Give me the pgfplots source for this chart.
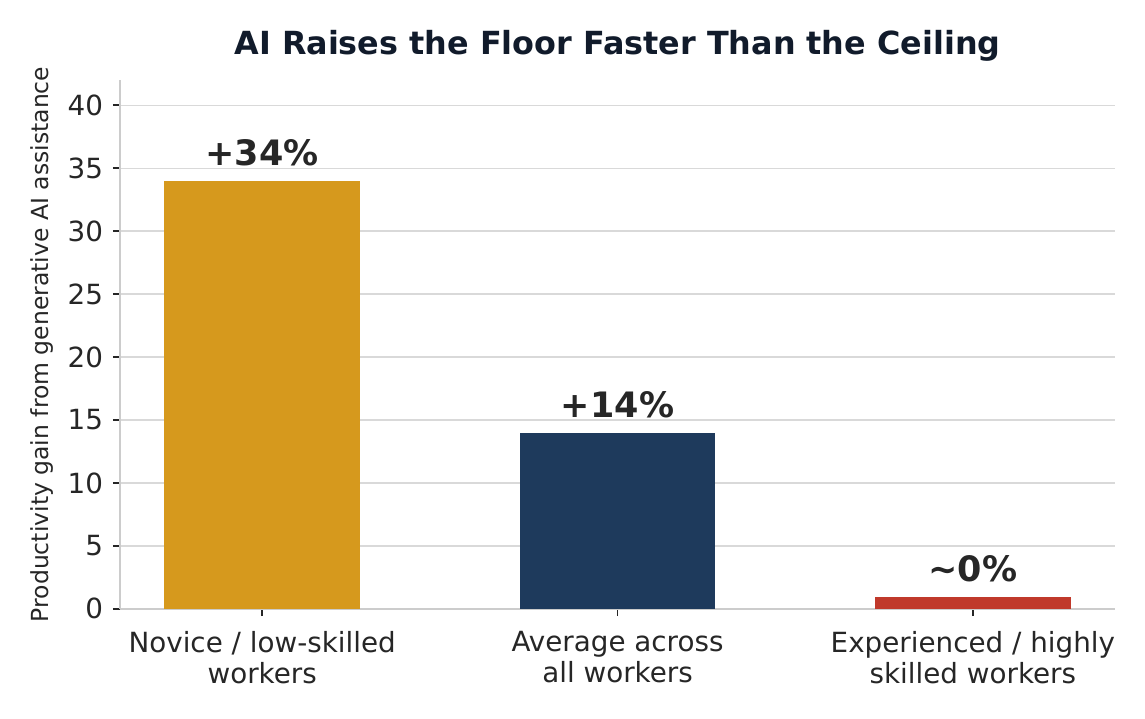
\documentclass[border=0pt]{standalone}
\usepackage{pgfplots}
\pgfplotsset{compat=1.18}
\usepackage{fontspec}
\setmainfont{DejaVu Sans}
\definecolor{txt}{HTML}{262626}
\definecolor{ttl}{HTML}{111B2B}
\definecolor{gridc}{HTML}{D9D9D9}
\definecolor{spinec}{HTML}{CCCCCC}
\definecolor{cgold}{HTML}{D6991D}
\definecolor{cnavy}{HTML}{1E3A5C}
\definecolor{cred}{HTML}{C0392B}
\begin{document}
\begin{tikzpicture}
\useasboundingbox (-43.2pt,-39.6pt) rectangle (369pt,219.2pt);
\begin{axis}[
  at={(0,0)}, anchor=south west,
  scale only axis,
  width=358.2pt, height=190.4pt,
  xmin=-0.4, xmax=2.4, ymin=0, ymax=42,
  axis x line*=bottom, axis y line*=left,
  axis line style={spinec, line width=0.5pt, -},
  xtick={0,1,2},
  xticklabels={{Novice / low-skilled\\workers},{Average across\\all workers},{Experienced / highly\\skilled workers}},
  xticklabel style={align=center, font=\fontsize{10}{11.3}\selectfont, text=txt, yshift=-1.8pt},
  ytick={0,5,...,40},
  yticklabel style={font=\fontsize{10}{12}\selectfont, text=txt},
  /pgf/number format/assume math mode=true,
  tick align=outside,
  major tick length=2.6pt,
  tick style={txt, line width=0.5pt},
  ymajorgrids, grid style={gridc, line width=0.45pt},
  every axis y label/.style={at={(axis description cs:-0.0782,0.5)}, rotate=90, anchor=center},
  ylabel={Productivity gain from generative AI assistance},
  ylabel style={font=\fontsize{8.46}{10}\selectfont, text=txt},
  title={AI Raises the Floor Faster Than the Ceiling},
  title style={at={(axis description cs:0.5,1)}, anchor=base, yshift=3.3pt, font=\bfseries\fontsize{11.46}{13}\selectfont, text=ttl},
  bar width=0.55,
  point meta=explicit symbolic,
  nodes near coords,
  nodes near coords style={anchor=base, yshift=5.6pt, font=\bfseries\fontsize{12.6}{14}\selectfont, text=txt},
]
\addplot[ybar, bar shift=0pt, fill=cgold, draw=none] coordinates {(0,34) [+34\%]};
\addplot[ybar, bar shift=0pt, fill=cnavy, draw=none] coordinates {(1,14) [+14\%]};
\addplot[ybar, bar shift=0pt, fill=cred, draw=none] coordinates {(2,0.95) [\textasciitilde0\%]};
\end{axis}
\end{tikzpicture}
\end{document}
